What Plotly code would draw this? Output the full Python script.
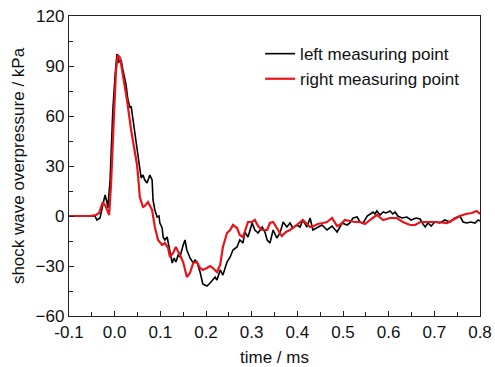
import plotly.graph_objects as go

# time (ms) and overpressure (kPa)
left_t = [-0.100, -0.065, -0.043, -0.039, -0.032, -0.026, -0.021, -0.017, -0.015, -0.010,
          -0.004, 0.001, 0.005, 0.009, 0.014, 0.018, 0.025, 0.029, 0.034, 0.036,
          0.040, 0.047, 0.053, 0.058, 0.062, 0.066, 0.071, 0.077, 0.082, 0.084,
          0.088, 0.093, 0.097, 0.099, 0.104, 0.106, 0.110, 0.115, 0.119, 0.126,
          0.130, 0.134, 0.139, 0.143, 0.150, 0.154, 0.158, 0.161, 0.165, 0.172,
          0.176, 0.180, 0.187, 0.193, 0.202, 0.209, 0.215, 0.220, 0.224, 0.231,
          0.237, 0.246, 0.253, 0.259, 0.268, 0.274, 0.281, 0.285, 0.292, 0.301,
          0.307, 0.314, 0.323, 0.329, 0.334, 0.340, 0.347, 0.355, 0.362, 0.369,
          0.377, 0.384, 0.390, 0.399, 0.406, 0.412, 0.421, 0.428, 0.434, 0.443,
          0.454, 0.465, 0.476, 0.487, 0.498, 0.509, 0.515, 0.522, 0.531, 0.537,
          0.544, 0.553, 0.559, 0.566, 0.570, 0.574, 0.581, 0.588, 0.594, 0.603,
          0.609, 0.614, 0.620, 0.629, 0.640, 0.649, 0.660, 0.669, 0.675, 0.680,
          0.686, 0.693, 0.701, 0.712, 0.723, 0.734, 0.745, 0.756, 0.763, 0.771,
          0.780, 0.789, 0.796, 0.800]
left_p = [0, 0, 0, -2.4, -1.2, 6.6, 12.6, 8.4, 4.8, 21.6,
          63.6, 84.6, 97.2, 92.4, 93.6, 87.6, 78.6, 69.6, 64.8, 66,
          57.6, 45.6, 33.6, 22.8, 24.6, 21.6, 19.8, 24.6, 21.6, 9.6,
          3.6, -0.6, 0, -4.2, -7.2, -12.6, -14.4, -12.6, -18.6, -28.2,
          -25.2, -27.6, -23.4, -24.6, -17.4, -14.4, -20.4, -22.2, -25.2, -28.2,
          -26.4, -27.6, -33.6, -40.8, -42, -40.2, -38.4, -36.6, -38.4, -32.4,
          -35.4, -27.6, -24.6, -20.4, -18.6, -14.4, -16.2, -9.6, -12.6, -4.2,
          -8.4, -10.2, -6.6, -9.6, -14.4, -16.2, -8.4, -13.2, -10.2, -3.6,
          -6.6, -4.2, -7.2, -5.4, -6.6, -2.4, -6.6, -1.2, -8.4, -7.2,
          -5.4, -8.4, -6, -9.6, -4.2, -5.4, -4.2, -1.2, -0.6, -3.6,
          -4.2, 0, 1.2, 2.4, 1.2, 3, 0.6, 2.4, 1.8, 3,
          1.2, 2.4, 0, -1.2, -0.6, -2.4, -1.2, -1.8, -4.8, -6.6,
          -4.2, -6, -3.6, -4.2, -2.4, -3.6, -1.2, 0, -3.6, -4.2,
          -3.6, -4.2, -2.4, -3]

right_t = [-0.100, -0.054, -0.041, -0.034, -0.026, -0.019, -0.012, -0.008, -0.001, 0.003,
           0.007, 0.012, 0.018, 0.027, 0.036, 0.045, 0.049, 0.053, 0.055, 0.062,
           0.066, 0.073, 0.077, 0.082, 0.088, 0.095, 0.104, 0.110, 0.117, 0.121,
           0.128, 0.134, 0.143, 0.150, 0.158, 0.165, 0.172, 0.180, 0.187, 0.193,
           0.202, 0.209, 0.215, 0.224, 0.231, 0.237, 0.246, 0.253, 0.259, 0.268,
           0.274, 0.281, 0.292, 0.301, 0.307, 0.314, 0.323, 0.334, 0.340, 0.347,
           0.355, 0.366, 0.375, 0.384, 0.393, 0.401, 0.412, 0.421, 0.428, 0.436,
           0.445, 0.456, 0.465, 0.476, 0.487, 0.496, 0.504, 0.515, 0.526, 0.537,
           0.548, 0.559, 0.574, 0.588, 0.603, 0.618, 0.631, 0.647, 0.658, 0.669,
           0.686, 0.706, 0.728, 0.741, 0.756, 0.769, 0.782, 0.793, 0.800]
right_p = [0, 0, 0.6, 1.8, 8.4, 5.4, 0.6, 18.6, 63.6, 87.6,
           96.6, 94.8, 84.6, 69.6, 51.6, 37.8, 30.6, 18.6, 11.4, 5.4,
           6, 8.4, 6.6, 3.6, -6.6, -14.4, -17.4, -16.2, -19.2, -24.6,
           -22.2, -18.6, -23.4, -27.6, -36.6, -34.2, -28.2, -27.6, -31.2, -32.4,
           -31.2, -30, -31.2, -33.6, -29.4, -18.6, -10.2, -8.4, -5.4, -7.2,
           -11.4, -12.6, -3.6, -3.6, -2.4, -6, -8.4, -8.4, -4.2, -3.6,
           -7.2, -12, -9.6, -8.4, -6.6, -4.8, -2.4, -4.8, -6.6, -6,
           -4.8, -4.2, -3.6, -1.2, -6, -4.8, -2.4, -3, -3.6, -3.6,
           -4.8, -2.4, 0.6, -2.4, -1.2, -1.2, -3.6, -5.4, -5.4, -3.6,
           -3.6, -3.6, -4.2, -2.4, 0, 1.2, 1.8, 3, 1.2]

x_ticks = [-0.1, 0.0, 0.1, 0.2, 0.3, 0.4, 0.5, 0.6, 0.7, 0.8]
x_tick_labels = ["-0.1", "0.0", "0.1", "0.2", "0.3", "0.4", "0.5", "0.6", "0.7", "0.8"]
y_ticks = [-60, -30, 0, 30, 60, 90, 120]

FONT = "Liberation Sans, Arial, sans-serif"
FS = 17

fig = go.Figure()
fig.add_trace(go.Scatter(x=left_t, y=left_p, mode="lines", name="left measuring point",
                         line=dict(color="#000000", width=1.6)))
fig.add_trace(go.Scatter(x=right_t, y=right_p, mode="lines", name="right measuring point",
                         line=dict(color="#e8141a", width=2.2)))

axis_common = dict(
    showline=True, linecolor="#222222", linewidth=1.3, mirror=True,
    showgrid=False, zeroline=False, automargin=False, ticklabeloverflow="allow",
    ticks="inside", ticklen=5, tickwidth=1, tickcolor="#222222",
    tickfont=dict(family=FONT, size=FS, color="#111111"),
)

fig.update_xaxes(range=[-0.1, 0.8], tickvals=x_ticks, ticktext=x_tick_labels,
                 minor=dict(ticks="inside", ticklen=4, tickwidth=1, tickcolor="#222222", dtick=0.05, tick0=-0.1),
                 title=dict(text="time / ms", font=dict(family=FONT, size=FS, color="#111111"), standoff=12),
                 **axis_common)
fig.update_yaxes(range=[-60, 120], tickvals=y_ticks,
                 minor=dict(ticks="inside", ticklen=4, tickwidth=1, tickcolor="#222222", dtick=15, tick0=-60),
                 title=dict(text="shock wave overpressure / kPa", font=dict(family=FONT, size=FS, color="#111111"), standoff=6),
                 **axis_common)

fig.update_layout(
    width=495, height=367,
    margin=dict(l=69, r=15, t=16, b=51),
    paper_bgcolor="white", plot_bgcolor="white",
    showlegend=True,
    legend=dict(x=0.465, y=0.933, xanchor="left", yanchor="top",
                bgcolor="rgba(0,0,0,0)", font=dict(family=FONT, size=FS, color="#111111"),
                tracegroupgap=0, itemwidth=30),
)

# remove the browser's default 8px body margin so the figure fills the window exactly
fig.write_html("out.html", config={"displayModeBar": False},
               post_script="document.body.style.margin='0';")
